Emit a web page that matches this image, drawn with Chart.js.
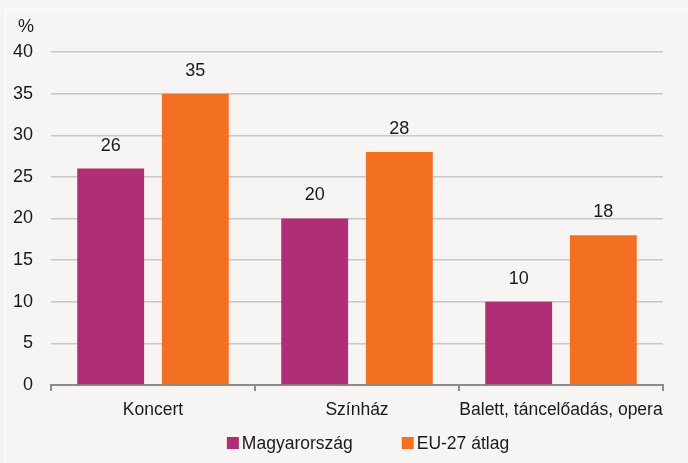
<!DOCTYPE html>
<html>
<head>
<meta charset="utf-8">
<script src="https://cdn.jsdelivr.net/npm/chart.js@4"></script>
<style>
  html, body { margin: 0; padding: 0; background: #f6f5f3; }
  #wrap { position: relative; width: 688px; height: 463px; overflow: hidden; }
  #frame { position: absolute; left: 5px; top: 10px; width: 700px; height: 500px; border-left: 1px solid #fff; border-top: 1px solid #fff; }
  canvas { position: absolute; left: 0; top: 0; }
</style>
</head>
<body>
<div id="wrap">
  <div id="frame"></div>
  <canvas id="barChart" width="688" height="463"></canvas>
</div>
<script>
// adatok
var categories = ['Koncert', 'Színház', 'Balett, táncelőadás, opera'];
var huValues = [26, 20, 10];   // Magyarország
var euValues = [35, 28, 18];   // EU-27 átlag
var yTicks = [0, 5, 10, 15, 20, 25, 30, 35, 40];

var FONT = '"Liberation Sans", Arial, sans-serif';

// értékek a oszlopok fölé + "%" + jelmagyarázat
var extras = {
  id: 'extras',
  afterDatasetsDraw: function(chart) {
    var ctx = chart.ctx;
    ctx.save();
    ctx.font = '18px ' + FONT;
    ctx.fillStyle = '#1a1a1a';
    ctx.textAlign = 'center';
    ctx.textBaseline = 'bottom';
    chart.data.datasets.forEach(function(ds, i) {
      chart.getDatasetMeta(i).data.forEach(function(bar, j) {
        ctx.fillText(ds.data[j], bar.x, bar.y - 14);
      });
    });
    ctx.textBaseline = 'middle';
    ctx.fillText('%', 26, 27);

    // jelmagyarázat alul
    ctx.font = '17.5px ' + FONT;
    ctx.textAlign = 'left';
    var box = 12, gapText = 3, gapItem = 49;
    var widths = chart.data.datasets.map(function(ds) {
      return box + gapText + ctx.measureText(ds.label).width;
    });
    var total = widths.reduce(function(a, b) { return a + b; }, 0) + gapItem * (widths.length - 1);
    var cx = (chart.chartArea.left + chart.chartArea.right) / 2 + 11;
    var x = cx - total / 2;
    var y = 443;
    chart.data.datasets.forEach(function(ds, i) {
      ctx.fillStyle = ds.backgroundColor;
      ctx.fillRect(x, y - box / 2, box, box);
      ctx.fillStyle = '#1a1a1a';
      ctx.fillText(ds.label, x + box + gapText, y + 1);
      x += widths[i] + gapItem;
    });
    ctx.restore();
  }
};

var ctx = document.getElementById('barChart').getContext('2d');
var chart = new Chart(ctx, {
  type: 'bar',
  data: {
    labels: categories,
    datasets: [{
      label: 'Magyarország',
      data: huValues,
      backgroundColor: '#b02e76'
    }, {
      label: 'EU-27 átlag',
      data: euValues,
      backgroundColor: '#f37023'
    }]
  },
  options: {
    responsive: false,
    animation: false,
    layout: { padding: { left: 0, top: 52, right: 25, bottom: 40 } },
    datasets: {
      bar: { categoryPercentage: 0.83, barPercentage: 0.79 }
    },
    scales: {
      x: {
        grid: { offset: true, drawOnChartArea: false, drawTicks: true, tickLength: 6, color: '#8a8a8a', lineWidth: 2 },
        border: { color: '#8a8a8a', width: 2 },
        ticks: { color: '#1a1a1a', font: { family: FONT, size: 17.5 }, padding: 9, maxRotation: 0, autoSkip: false },
        afterFit: function(s) { s.height = 38; }
      },
      y: {
        min: 0,
        max: 40,
        afterBuildTicks: function(s) { s.ticks = yTicks.map(function(v) { return { value: v }; }); },
        grid: { color: '#c9c8c6', lineWidth: 1.5, drawTicks: false },
        border: { display: false },
        ticks: { color: '#1a1a1a', font: { family: FONT, size: 18 }, padding: 18 },
        afterFit: function(s) { s.width = 51; }
      }
    },
    plugins: {
      legend: { display: false },
      tooltip: { enabled: false }
    }
  },
  plugins: [extras]
});
</script>
</body>
</html>
